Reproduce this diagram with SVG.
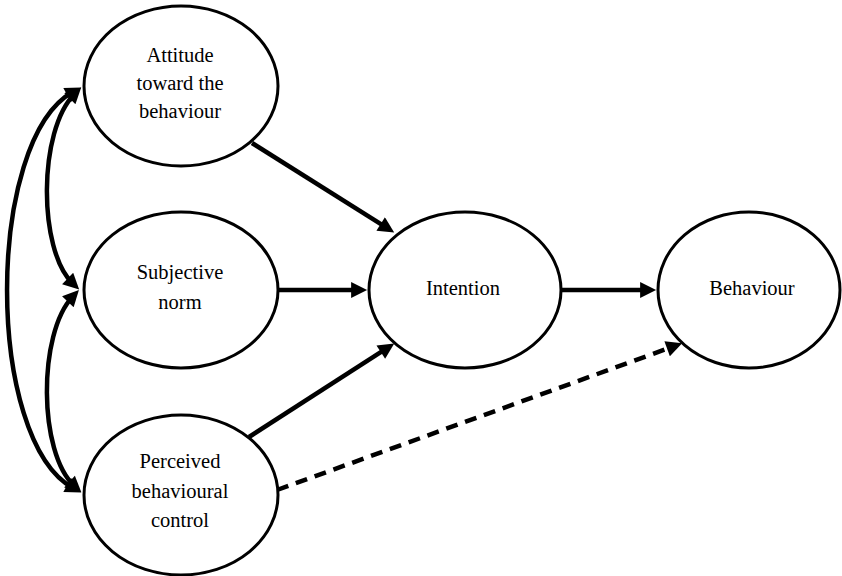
<svg xmlns="http://www.w3.org/2000/svg" width="842" height="576" viewBox="0 0 842 576">
  <style>
    .node ellipse { fill: #ffffff; stroke: #000000; stroke-width: 3; }
    .node text { font-size: 20.5px; fill: #000000; text-anchor: middle; }
    .conn { fill: none; stroke: #000000; stroke-width: 4.5; }
    .arrow { marker-end: url(#ah); }
    .both { marker-start: url(#ah); marker-end: url(#ah); }
    .dash { stroke-dasharray: 12 8; }
  </style>
  <defs>
    <marker id="ah" viewBox="0 0 10 10" refX="4.3" refY="5" markerUnits="userSpaceOnUse" markerWidth="18" markerHeight="16" orient="auto-start-reverse">
      <path d="M0,0 L10,5 L0,10 z" fill="#000000"/>
    </marker>
  </defs>
  <rect x="0" y="0" width="842" height="576" fill="#ffffff"/>

  <g id="connectors">
    <path class="conn both" d="M73.2,91.8 C-15,140 -15,440 73.2,488.2"/>
    <path class="conn both" d="M74.7,93.8 C38,130 38,250 72.6,283.3"/>
    <path class="conn both" d="M72.6,296.7 C38,333 38,453 74.6,486.2"/>
    <path class="conn arrow" d="M252,143 L386.5,227.7"/>
    <path class="conn arrow" d="M279,290 L358,290"/>
    <path class="conn arrow" d="M249,437 L386.6,348.4"/>
    <path class="conn arrow" d="M562,290 L647,290"/>
    <path class="conn arrow dash" d="M277,490 L673.6,346.4"/>
  </g>

  <g id="attitude" class="node" font-family="'Liberation Serif', 'Times New Roman', Times, 'DejaVu Serif', serif">
    <ellipse cx="181" cy="86" rx="97" ry="80"/>
    <text x="180" y="62">Attitude</text>
    <text x="180" y="90">toward the</text>
    <text x="180" y="118">behaviour</text>
  </g>
  <g id="subjective-norm" class="node" font-family="'Liberation Serif', 'Times New Roman', Times, 'DejaVu Serif', serif">
    <ellipse cx="181" cy="290" rx="97" ry="78"/>
    <text x="180" y="279">Subjective</text>
    <text x="180" y="309">norm</text>
  </g>
  <g id="pbc" class="node" font-family="'Liberation Serif', 'Times New Roman', Times, 'DejaVu Serif', serif">
    <ellipse cx="181" cy="495" rx="97" ry="80"/>
    <text x="180" y="468">Perceived</text>
    <text x="180" y="498">behavioural</text>
    <text x="180" y="527">control</text>
  </g>
  <g id="intention" class="node" font-family="'Liberation Serif', 'Times New Roman', Times, 'DejaVu Serif', serif">
    <ellipse cx="465" cy="290" rx="96" ry="78"/>
    <text x="463" y="295">Intention</text>
  </g>
  <g id="behaviour" class="node" font-family="'Liberation Serif', 'Times New Roman', Times, 'DejaVu Serif', serif">
    <ellipse cx="749" cy="290" rx="91" ry="78"/>
    <text x="752" y="295">Behaviour</text>
  </g>
</svg>
